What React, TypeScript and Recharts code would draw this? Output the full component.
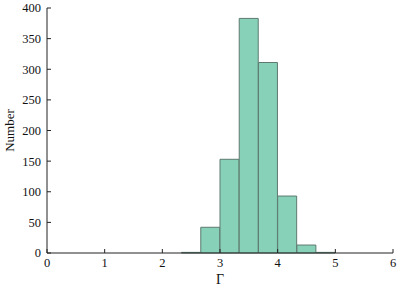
import React from "react";
import { ComposedChart, Bar, XAxis, YAxis } from "recharts";

// bin centres (Γ) and counts
const binCenters = [2.5, 2.8333, 3.1667, 3.5, 3.8333, 4.1667, 4.5, 4.8333];
const counts = [1, 42, 153, 383, 311, 93, 13, 1];
const xTicks = [0, 1, 2, 3, 4, 5, 6];
const yTicks = [0, 50, 100, 150, 200, 250, 300, 350, 400];

const data = binCenters.map((g, i) => ({ gamma: g, count: counts[i] }));

const FONT = "'Liberation Serif', 'Times New Roman', serif";
const AXIS = "#222";

export default function App() {
  const tick = { fontSize: 12.5, fill: "#111", fontFamily: FONT };
  return (
    <div style={{ position: "absolute", left: 0, top: 0, fontFamily: FONT }}>
      <ComposedChart
        width={399}
        height={288}
        data={data}
        margin={{ top: 8, right: 6, bottom: 0, left: 0 }}
        barCategoryGap={0}
        barGap={0}
      >
        <XAxis
          xAxisId="b"
          dataKey="gamma"
          type="number"
          domain={[0, 6]}
          ticks={xTicks}
          allowDataOverflow
          height={35}
          tickSize={-4}
          tickMargin={9}
          tick={tick}
          stroke={AXIS}
          label={{ value: "Γ", position: "insideBottom", offset: 4, fontSize: 14, fill: "#111", fontFamily: FONT }}
        />
        <XAxis
          xAxisId="t"
          dataKey="gamma"
          type="number"
          orientation="top"
          domain={[0, 6]}
          ticks={xTicks}
          height={0}
          tickSize={-4}
          tick={false}
          stroke={AXIS}
        />
        <YAxis
          yAxisId="l"
          type="number"
          domain={[0, 400]}
          ticks={yTicks}
          width={47}
          tickSize={-4}
          tickMargin={10}
          tick={tick}
          stroke={AXIS}
          label={{ value: "Number", angle: -90, position: "center", dx: -14, fontSize: 13, fill: "#111", fontFamily: FONT }}
        />
        <YAxis
          yAxisId="r"
          orientation="right"
          type="number"
          domain={[0, 400]}
          ticks={yTicks}
          width={0}
          tickSize={-4}
          tick={false}
          stroke={AXIS}
        />
        <Bar
          xAxisId="b"
          yAxisId="l"
          dataKey="count"
          fill="#86d1b8"
          stroke="#5e7a70"
          strokeWidth={1}
          isAnimationActive={false}
        />
      </ComposedChart>
    </div>
  );
}
